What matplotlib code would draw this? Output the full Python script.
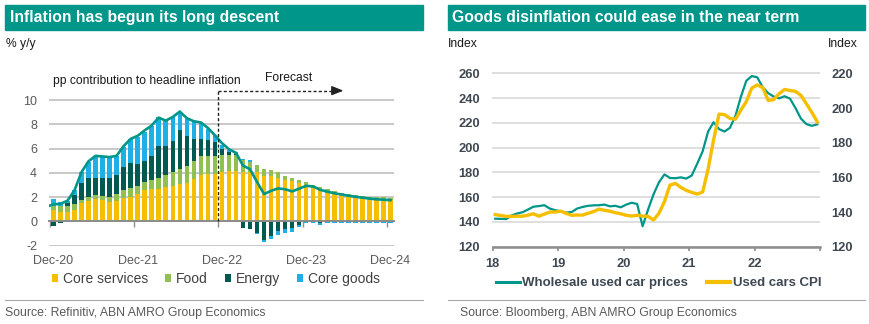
import numpy as np
import pandas as pd
import matplotlib
matplotlib.use("Agg")
import matplotlib.pyplot as plt
from matplotlib.patches import Rectangle, Patch
from matplotlib.lines import Line2D

plt.rcParams["font.family"] = ["Liberation Sans", "DejaVu Sans"]
plt.rcParams["axes.unicode_minus"] = False

# ---------------- Left panel: contributions to headline inflation (pp) ----------------
months_left = pd.period_range("2020-12", "2024-12", freq="M")
core_services = [0.95, 0.80, 0.78, 0.96, 1.48, 1.70, 1.84, 1.78, 1.64, 1.70, 1.90, 2.00,
                 2.25, 2.55, 2.65, 2.70, 2.84, 2.95, 3.06, 3.14, 3.47, 3.80, 3.88, 3.90,
                 4.10, 4.19, 4.16, 4.10, 4.10, 4.03, 3.72, 3.72, 3.60, 3.45, 3.34, 3.20,
                 3.01, 2.74, 2.60, 2.40, 2.27, 2.14, 2.05, 2.00, 1.92, 1.86, 1.80, 1.78, 1.75]
food = [0.33, 0.46, 0.48, 0.46, 0.30, 0.27, 0.30, 0.35, 0.40, 0.57, 0.70, 0.75,
        0.65, 0.70, 0.80, 0.90, 0.96, 1.10, 1.23, 1.42, 1.50, 1.55, 1.50, 1.50,
        1.38, 1.29, 1.32, 0.97, 0.83, 0.65, 0.62, 0.55, 0.45, 0.32, 0.25, 0.22,
        0.22, 0.26, 0.22, 0.26, 0.20, 0.24, 0.22, 0.19, 0.18, 0.19, 0.20, 0.19, 0.20]
energy = [-0.40, -0.15, 0.25, 0.75, 1.42, 1.64, 1.42, 1.48, 1.56, 1.56, 1.85, 2.10,
          1.85, 1.75, 1.90, 2.60, 2.45, 2.60, 3.25, 2.45, 1.80, 1.40, 1.30, 1.10,
          0.47, 0.25, 0.08, -0.55, -0.63, -0.96, -1.50, -1.23, -0.77, -0.60, -0.55, -0.30,
          -0.05, -0.05, -0.15, -0.02, -0.02, -0.02, -0.02, -0.02, -0.02, -0.02, -0.02, -0.02, -0.02]
core_goods = [0.55, 0.35, 0.15, 0.40, 0.90, 1.30, 1.84, 1.73, 1.64, 1.55, 1.65, 1.90,
              2.20, 2.40, 2.50, 2.40, 2.00, 1.95, 1.46, 1.44, 1.43, 1.35, 0.97, 0.60,
              0.35, 0.12, 0.12, 0.10, 0.15, -0.05, -0.22, -0.22, -0.33, -0.33, -0.35, -0.15,
              -0.12, -0.12, -0.12, -0.12, -0.12, -0.12, -0.12, -0.12, -0.12, -0.12, -0.12, -0.12, -0.12]
# headline inflation, % y/y, Nov-20 .. Dec-24
months_headline = pd.period_range("2020-11", "2024-12", freq="M")
headline = [1.2,
            1.4, 1.45, 1.7, 2.55, 4.05, 4.95, 5.4, 5.35, 5.3, 5.4, 6.2, 6.8,
            7.05, 7.5, 7.9, 8.55, 8.3, 8.6, 9.05, 8.5, 8.25, 8.15, 7.7, 7.1,
            6.45, 5.95, 5.65, 4.6, 4.3, 3.25, 2.25, 2.52, 2.72, 2.65, 2.47, 2.7,
            2.93, 2.88, 2.6, 2.45, 2.32, 2.22, 2.12, 2.03, 1.96, 1.88, 1.82, 1.79, 1.75]
left_tick_months = ["2020-12", "2021-12", "2022-12", "2023-12", "2024-12"]
left_tick_labels = ["Dec-20", "Dec-21", "Dec-22", "Dec-23", "Dec-24"]
forecast_start = "2022-12"
component_names = ["Core services", "Food", "Energy", "Core goods"]

# ---------------- Right panel: used car prices (index) ----------------
months_right = pd.date_range("2018-01-01", periods=60, freq="MS")
wholesale_used = [142.6, 142.5, 142.3, 145.2, 146.8, 147.8, 150.0, 152.3, 152.8, 153.5,
                  150.8, 149.5, 148.6, 147.5, 148.0, 150.8, 152.1, 153.0, 153.4, 153.5,
                  154.0, 152.6, 153.0, 151.8, 154.0, 155.5, 154.5, 136.5, 150.0, 162.3,
                  172.0, 178.4, 175.5, 175.3, 176.0, 175.0, 177.5, 187.0, 197.0, 213.0,
                  220.5, 215.0, 213.0, 216.0, 225.5, 241.0, 254.0, 257.8, 256.8, 248.8,
                  244.0, 241.3, 239.8, 241.5, 239.6, 232.0, 223.5, 219.0, 217.6, 218.8]
used_cars_cpi = [138.5, 138.0, 137.5, 137.5, 137.6, 137.6, 138.2, 139.0, 137.6, 138.8,
                 140.0, 140.0, 140.5, 139.2, 138.1, 138.3, 138.2, 139.3, 140.2, 141.7,
                 141.0, 140.5, 139.6, 139.0, 138.1, 137.7, 138.1, 137.7, 137.5, 135.4,
                 139.3, 146.0, 155.5, 156.5, 154.2, 152.5, 151.3, 150.4, 151.5, 164.8,
                 181.5, 196.5, 196.2, 194.0, 193.5, 198.8, 203.7, 211.5, 213.3, 211.8,
                 204.4, 204.8, 208.2, 210.7, 210.1, 209.6, 207.3, 202.5, 197.5, 192.0]
right_years = [2018, 2019, 2020, 2021, 2022, 2023]
right_year_labels = ["18", "19", "20", "21", "22", ""]

# ---------------- styling ----------------
W, H = 870, 324
TEAL_BAND = "#00968A"
TEAL = "#00968A"
YELLOW = "#F5BF00"
GREEN = "#92C050"
DARK = "#005A50"
BLUE = "#1DAFE6"
GRID_L = "#BFBFBF"
AXIS = "#8C8C8C"


def fx(x):
    return x / W


def fy(y):
    return 1 - y / H


fig = plt.figure(figsize=(W / 100, H / 100), dpi=100)

# title bands
for (x0, x1, title, tx) in [(5, 423, "Inflation has begun its long descent", 10),
                            (448, 865, "Goods disinflation could ease in the near term", 452)]:
    fig.patches.append(Rectangle((fx(x0), fy(30)), (x1 - x0) / W, 25 / H,
                                 transform=fig.transFigure, color=TEAL_BAND, zorder=0))
    fig.text(fx(tx), fy(17.5), title, color="white", fontsize=11.3, fontweight="bold",
             va="center", ha="left")

# separator lines and sources
for (x0, x1) in [(5, 423), (448, 865)]:
    fig.add_artist(Line2D([fx(x0), fx(x1)], [fy(300), fy(300)], color="#A6A6A6", lw=0.8))
fig.text(fx(5), fy(313), "Source: Refinitiv, ABN AMRO Group Economics",
         fontsize=8.8, color="#595959", va="center")
fig.text(fx(460), fy(313), "Source: Bloomberg, ABN AMRO Group Economics",
         fontsize=8.8, color="#595959", va="center")

# ---------------- left chart ----------------
ymin, ymax = -2.05, 10.05
ax1 = fig.add_axes([fx(49), fy(246.3), (394 - 49) / W, (246.3 - 99.4) / H])
x = np.arange(len(months_left))
pos_base = np.zeros(len(x))
neg_base = np.zeros(len(x))
handles_left = []
for vals, col, name in zip([core_services, food, energy, core_goods],
                           [YELLOW, GREEN, DARK, BLUE], component_names):
    v = np.asarray(vals)
    base = np.where(v >= 0, pos_base, neg_base)
    ax1.bar(x, v, bottom=base, width=0.64, color=col, zorder=2, linewidth=0)
    pos_base += np.clip(v, 0, None)
    neg_base += np.clip(v, None, 0)
    handles_left.append(Patch(facecolor=col, edgecolor="none", label=name))

x_head = np.array([(m - months_left[0]).n for m in months_headline])
ax1.plot(x_head, headline, color=TEAL, lw=1.9, zorder=4, solid_joinstyle="round")

ax1.set_xlim(-0.62, 48.5)
ax1.set_ylim(ymin, ymax)
ax1.set_yticks(np.arange(-2, 11, 2))
ax1.yaxis.grid(True, color=GRID_L, lw=1.2)
ax1.set_axisbelow(True)
for s in ["left", "right", "top"]:
    ax1.spines[s].set_visible(False)
ax1.spines["bottom"].set_position(("data", 0))
ax1.spines["bottom"].set_color(AXIS)
ax1.spines["bottom"].set_linewidth(1.4)
ax1.spines["bottom"].set_zorder(3)
ax1.tick_params(axis="y", length=0, pad=8.6, labelsize=9, labelcolor="#595959")
tick_pos = [(pd.Period(m, "M") - months_left[0]).n for m in left_tick_months]
ax1.set_xticks(tick_pos)
ax1.set_xticklabels(left_tick_labels)
ax1.set_xticks([p - 0.5 for p in tick_pos], minor=True)
ax1.tick_params(axis="x", which="major", length=0, pad=24.5, labelsize=9, labelcolor="#595959")
ax1.tick_params(axis="x", which="minor", length=4, width=1, color=AXIS)

# forecast marker
fc = (pd.Period(forecast_start, "M") - months_left[0]).n - 0.5
y_arrow = 10.77
ax1.plot([fc, fc], [0, y_arrow], ls=(0, (2.2, 1.6)), color="#222222", lw=1.0,
         clip_on=False, zorder=5)
ax1.plot([fc, 40.7], [y_arrow, y_arrow], ls=(0, (2.2, 1.6)), color="#222222", lw=1.0,
         clip_on=False, zorder=5)
ax1.annotate("", xy=(41.3, y_arrow), xytext=(40.5, y_arrow), annotation_clip=False,
             arrowprops=dict(arrowstyle="-|>,head_length=0.7,head_width=0.28",
                             color="#222222", lw=1.0, shrinkA=0, shrinkB=0))

fig.text(fx(6), fy(44), "% y/y", fontsize=8.7, va="center", color="#1a1a1a")
fig.text(fx(53), fy(81), "pp contribution to headline inflation", fontsize=8.7,
         va="center", color="#1a1a1a")
fig.text(fx(265), fy(77.7), "Forecast", fontsize=8.7, va="center", color="#1a1a1a")

fig.legend(handles=handles_left, loc="center left", bbox_to_anchor=(fx(52), fy(279)),
           ncol=4, frameon=False, fontsize=10, handlelength=0.45, handleheight=0.45,
           handletextpad=0.35, columnspacing=1.2, borderpad=0, borderaxespad=0,
           labelcolor="#404040")

# ---------------- right chart ----------------
RC = "#3F4852"
ax2 = fig.add_axes([fx(492.5), fy(246.7), (820 - 492.5) / W, (246.7 - 72.1) / H])
ax2r = ax2.twinx()
t = months_right.year + (months_right.month - 0.5) / 12
ax2.plot(t, wholesale_used, color=TEAL, lw=1.6, zorder=3)
ax2r.plot(t, used_cars_cpi, color=YELLOW, lw=2.4, zorder=3)

ax2.set_xlim(2018, 2023)
ax2.set_ylim(120, 261)
ax2r.set_ylim(120, 220 + 100 / 140)
ax2.set_yticks(np.arange(120, 261, 20))
ax2r.set_yticks(np.arange(120, 221, 20))
ax2.yaxis.grid(True, color="#D9D9D9", lw=1.2)
ax2.set_axisbelow(True)
for a in (ax2, ax2r):
    for s in ["left", "right", "top"]:
        a.spines[s].set_visible(False)
ax2r.spines["bottom"].set_visible(False)
ax2.spines["bottom"].set_color("#8C8C8C")
ax2.spines["bottom"].set_linewidth(1.8)
ax2.set_xticks(right_years)
ax2.set_xticklabels(right_year_labels)
ax2.tick_params(axis="x", length=3, width=1.2, color="#8C8C8C", pad=5, labelsize=9.3,
                labelcolor=RC)
ax2.tick_params(axis="y", length=0, pad=9, labelsize=9.3, labelcolor=RC)
ax2r.tick_params(axis="y", length=0, pad=8, labelsize=9.3, labelcolor=RC)
for lab in ax2.get_xticklabels() + ax2.get_yticklabels() + ax2r.get_yticklabels():
    lab.set_fontweight("bold")

fig.text(fx(448), fy(44), "Index", fontsize=8.7, va="center", color="#1a1a1a")
fig.text(fx(858), fy(44), "Index", fontsize=8.7, va="center", ha="right", color="#1a1a1a")

handles_right = [Line2D([], [], color=TEAL, lw=2.2, label="Wholesale used car prices"),
                 Line2D([], [], color=YELLOW, lw=3.0, label="Used cars CPI")]
fig.legend(handles=handles_right, loc="center left", bbox_to_anchor=(fx(496), fy(283)),
           ncol=2, frameon=False, prop={"size": 9.5, "weight": "bold"},
           handlelength=1.8, handletextpad=0.2, columnspacing=1.4, borderpad=0,
           borderaxespad=0, labelcolor=RC)

fig.savefig("out.png", dpi=100)
